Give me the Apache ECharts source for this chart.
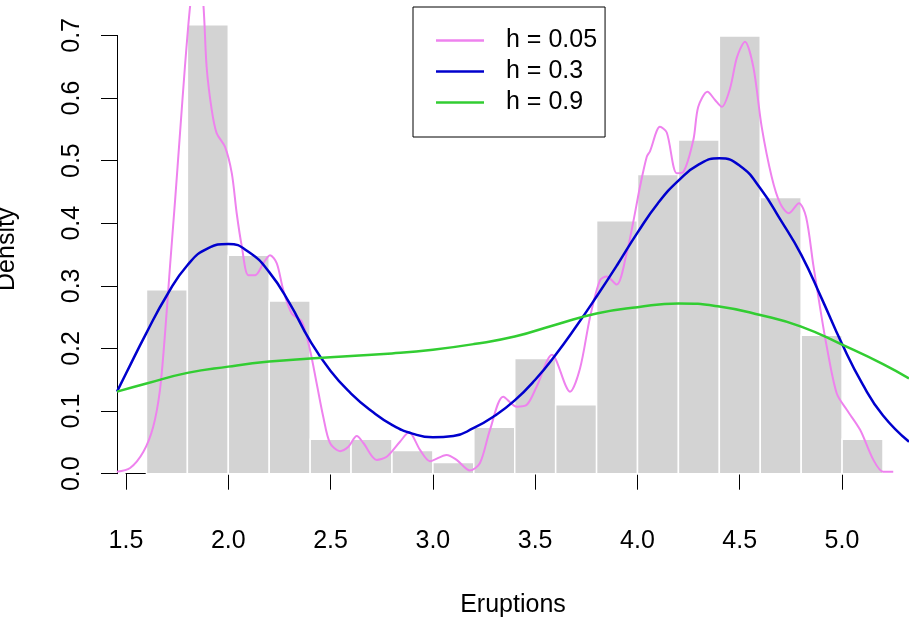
<!DOCTYPE html>
<html>
<head>
<meta charset="utf-8">
<script src="https://cdn.jsdelivr.net/npm/echarts@6/dist/echarts.min.js"></script>
<style>
  html, body { margin: 0; padding: 0; background: #fff; }
  #chart { width: 909px; height: 618px; }
</style>
</head>
<body>
<div id="chart"></div>
<script>
// histogram of eruption times, density scale, bins of 0.2
const histBreaks = [1.6, 1.8, 2.0, 2.2, 2.4, 2.6, 2.8, 3.0, 3.2, 3.4, 3.6, 3.8, 4.0, 4.2, 4.4, 4.6, 4.8, 5.0, 5.2];
const histDensity = [0.294, 0.717, 0.349, 0.276, 0.055, 0.055, 0.037, 0.018, 0.074, 0.184,
  0.110, 0.404, 0.478, 0.533, 0.699, 0.441, 0.221, 0.055];

const xTicks = [1.5, 2.0, 2.5, 3.0, 3.5, 4.0, 4.5, 5.0];
const yTicks = [0.0, 0.1, 0.2, 0.3, 0.4, 0.5, 0.6, 0.7];

const bandwidths = ["h = 0.05", "h = 0.3", "h = 0.9"];

// kernel density curves
const densH005 = [
  [1.455, 0.003], [1.52, 0.009], [1.585, 0.035], [1.633, 0.075], [1.666, 0.134], [1.691, 0.225],
  [1.715, 0.331], [1.740, 0.437], [1.764, 0.544], [1.788, 0.650], [1.813, 0.746], [1.847, 0.840],
  [1.878, 0.750], [1.894, 0.650], [1.919, 0.581], [1.943, 0.544], [1.984, 0.522], [2.017, 0.480],
  [2.041, 0.416], [2.066, 0.363], [2.098, 0.317], [2.131, 0.317], [2.171, 0.336], [2.204, 0.349],
  [2.237, 0.336], [2.269, 0.293], [2.310, 0.256], [2.359, 0.243], [2.399, 0.198], [2.432, 0.144],
  [2.464, 0.091], [2.497, 0.049], [2.546, 0.036], [2.587, 0.043], [2.628, 0.060], [2.660, 0.049],
  [2.725, 0.022], [2.774, 0.027], [2.839, 0.051], [2.883, 0.066], [2.937, 0.038], [2.986, 0.020],
  [3.067, 0.030], [3.116, 0.022], [3.181, 0.005], [3.230, 0.017], [3.279, 0.070], [3.344, 0.123],
  [3.410, 0.107], [3.459, 0.110], [3.507, 0.139], [3.582, 0.190], [3.670, 0.131], [3.719, 0.168],
  [3.768, 0.250], [3.817, 0.309], [3.849, 0.315], [3.898, 0.302], [3.947, 0.352], [3.978, 0.400],
  [4.012, 0.458], [4.045, 0.506], [4.061, 0.515], [4.110, 0.554], [4.143, 0.545], [4.192, 0.480],
  [4.224, 0.482], [4.273, 0.533], [4.297, 0.586], [4.342, 0.610], [4.379, 0.597], [4.412, 0.586],
  [4.452, 0.615], [4.486, 0.665], [4.525, 0.690], [4.566, 0.650], [4.607, 0.554], [4.656, 0.474],
  [4.697, 0.432], [4.740, 0.416], [4.789, 0.432], [4.824, 0.410], [4.859, 0.334], [4.892, 0.266],
  [4.925, 0.203], [4.974, 0.128], [5.023, 0.102], [5.088, 0.070], [5.153, 0.022], [5.201, 0.003],
  [5.250, 0.003]
];
const densH03 = [
  [1.456, 0.131], [1.5, 0.160], [1.6, 0.225], [1.7, 0.285], [1.8, 0.333], [1.9, 0.360],
  [2.0, 0.367], [2.1, 0.354], [2.2, 0.322], [2.3, 0.272], [2.4, 0.212], [2.5, 0.164],
  [2.6, 0.128], [2.7, 0.100], [2.8, 0.078], [2.9, 0.064], [3.0, 0.058], [3.1, 0.060],
  [3.2, 0.073], [3.3, 0.092], [3.4, 0.117], [3.5, 0.150], [3.6, 0.190], [3.7, 0.235],
  [3.8, 0.283], [3.9, 0.333], [4.0, 0.385], [4.1, 0.432], [4.2, 0.468], [4.3, 0.494],
  [4.4, 0.504], [4.5, 0.492], [4.6, 0.456], [4.7, 0.405], [4.8, 0.350], [4.9, 0.280],
  [5.0, 0.207], [5.1, 0.143], [5.2, 0.093], [5.327, 0.051]
];
const densH09 = [
  [1.456, 0.131], [1.6, 0.144], [1.8, 0.161], [2.0, 0.171], [2.2, 0.179], [2.4, 0.184],
  [2.6, 0.188], [2.8, 0.192], [3.0, 0.198], [3.2, 0.207], [3.4, 0.219], [3.6, 0.238],
  [3.8, 0.256], [4.0, 0.266], [4.2, 0.272], [4.4, 0.267], [4.6, 0.2535], [4.8, 0.235],
  [5.0, 0.206], [5.2, 0.175], [5.327, 0.152]
];

const FONT = "'Liberation Sans', Arial, sans-serif";

const chart = echarts.init(document.getElementById("chart"));

const histData = histDensity.map((d, i) => [histBreaks[i], histBreaks[i + 1], d]);

const hiddenParts = {
  axisLine: { show: false },
  axisTick: { show: false },
  axisLabel: { show: false },
  splitLine: { show: false }
};

const option = {
  animation: false,
  backgroundColor: "#fff",
  textStyle: { fontFamily: FONT },
  grid: [
    // plot region (curves get clipped here)
    { left: 117, top: 7, width: 792, height: 484.5, outerBoundsMode: "none" },
    // region spanned by the drawn axes
    { left: 126, top: 35.4, width: 716, height: 438.3, outerBoundsMode: "none" }
  ],
  xAxis: [
    {
      gridIndex: 0, type: "value", min: 1.456, max: 5.327,
      name: "Eruptions",
      nameLocation: "middle",
      nameGap: 101,
      nameTextStyle: { fontSize: 25, color: "#000", fontFamily: FONT },
      ...hiddenParts
    },
    {
      gridIndex: 1,
      type: "value",
      min: xTicks[0],
      max: xTicks[xTicks.length - 1],
      interval: 0.5,
      offset: 17.3,
      axisLine: { show: true, lineStyle: { color: "#000", width: 1 } },
      axisTick: { show: true, length: 16, lineStyle: { color: "#000", width: 1 } },
      axisLabel: {
        show: true, margin: 38, fontSize: 25, color: "#000", fontFamily: FONT,
        showMinLabel: true, showMaxLabel: true,
        formatter: (v) => v.toFixed(1)
      },
      splitLine: { show: false }
    }
  ],
  yAxis: [
    {
      gridIndex: 0, type: "value", min: -0.0285, max: 0.7455,
      name: "Density",
      nameLocation: "middle",
      nameRotate: 90,
      nameGap: 97,
      nameTextStyle: { fontSize: 25, color: "#000", fontFamily: FONT },
      ...hiddenParts
    },
    {
      gridIndex: 1,
      type: "value",
      min: yTicks[0],
      max: yTicks[yTicks.length - 1],
      interval: 0.1,
      offset: 9,
      axisLine: { show: true, lineStyle: { color: "#000", width: 1 } },
      axisTick: { show: true, length: 16, lineStyle: { color: "#000", width: 1 } },
      axisLabel: {
        show: true, margin: 32, rotate: 90, fontSize: 25, color: "#000", fontFamily: FONT,
        showMinLabel: true, showMaxLabel: true,
        formatter: (v) => v.toFixed(1)
      },
      splitLine: { show: false }
    }
  ],
  legend: {
    orient: "vertical",
    left: 413,
    top: 7,
    padding: [18, 8, 19, 23],
    itemGap: 0,
    itemWidth: 48,
    itemHeight: 2.5,
    icon: "rect",
    borderColor: "#000",
    borderWidth: 1,
    borderRadius: 0,
    selectedMode: false,
    data: bandwidths,
    textStyle: { fontSize: 25, color: "#000", lineHeight: 31, padding: [0, 0, 0, 17], fontFamily: FONT }
  },
  series: [
    {
      type: "custom",
      name: "hist",
      xAxisIndex: 0,
      yAxisIndex: 0,
      data: histData,
      encode: { x: [0, 1], y: 2 },
      renderItem: function (params, api) {
        const p0 = api.coord([api.value(0), api.value(2)]);
        const p1 = api.coord([api.value(1), 0]);
        return {
          type: "rect",
          shape: { x: p0[0], y: p0[1], width: p1[0] - p0[0], height: p1[1] - p0[1] },
          style: { fill: "#D3D3D3", stroke: "#fff", lineWidth: 1.5 }
        };
      }
    },
    {
      type: "line",
      name: bandwidths[0],
      xAxisIndex: 0,
      yAxisIndex: 0,
      data: densH005,
      symbol: "none",
      smooth: 0.3,
      itemStyle: { color: "#EE82EE" },
      lineStyle: { color: "#EE82EE", width: 2 }
    },
    {
      type: "line",
      name: bandwidths[1],
      xAxisIndex: 0,
      yAxisIndex: 0,
      data: densH03,
      symbol: "none",
      smooth: true,
      itemStyle: { color: "#0000CD" },
      lineStyle: { color: "#0000CD", width: 2.5 }
    },
    {
      type: "line",
      name: bandwidths[2],
      xAxisIndex: 0,
      yAxisIndex: 0,
      data: densH09,
      symbol: "none",
      smooth: true,
      itemStyle: { color: "#32CD32" },
      lineStyle: { color: "#32CD32", width: 2.5 }
    }
  ]
};

chart.setOption(option);
</script>
</body>
</html>
